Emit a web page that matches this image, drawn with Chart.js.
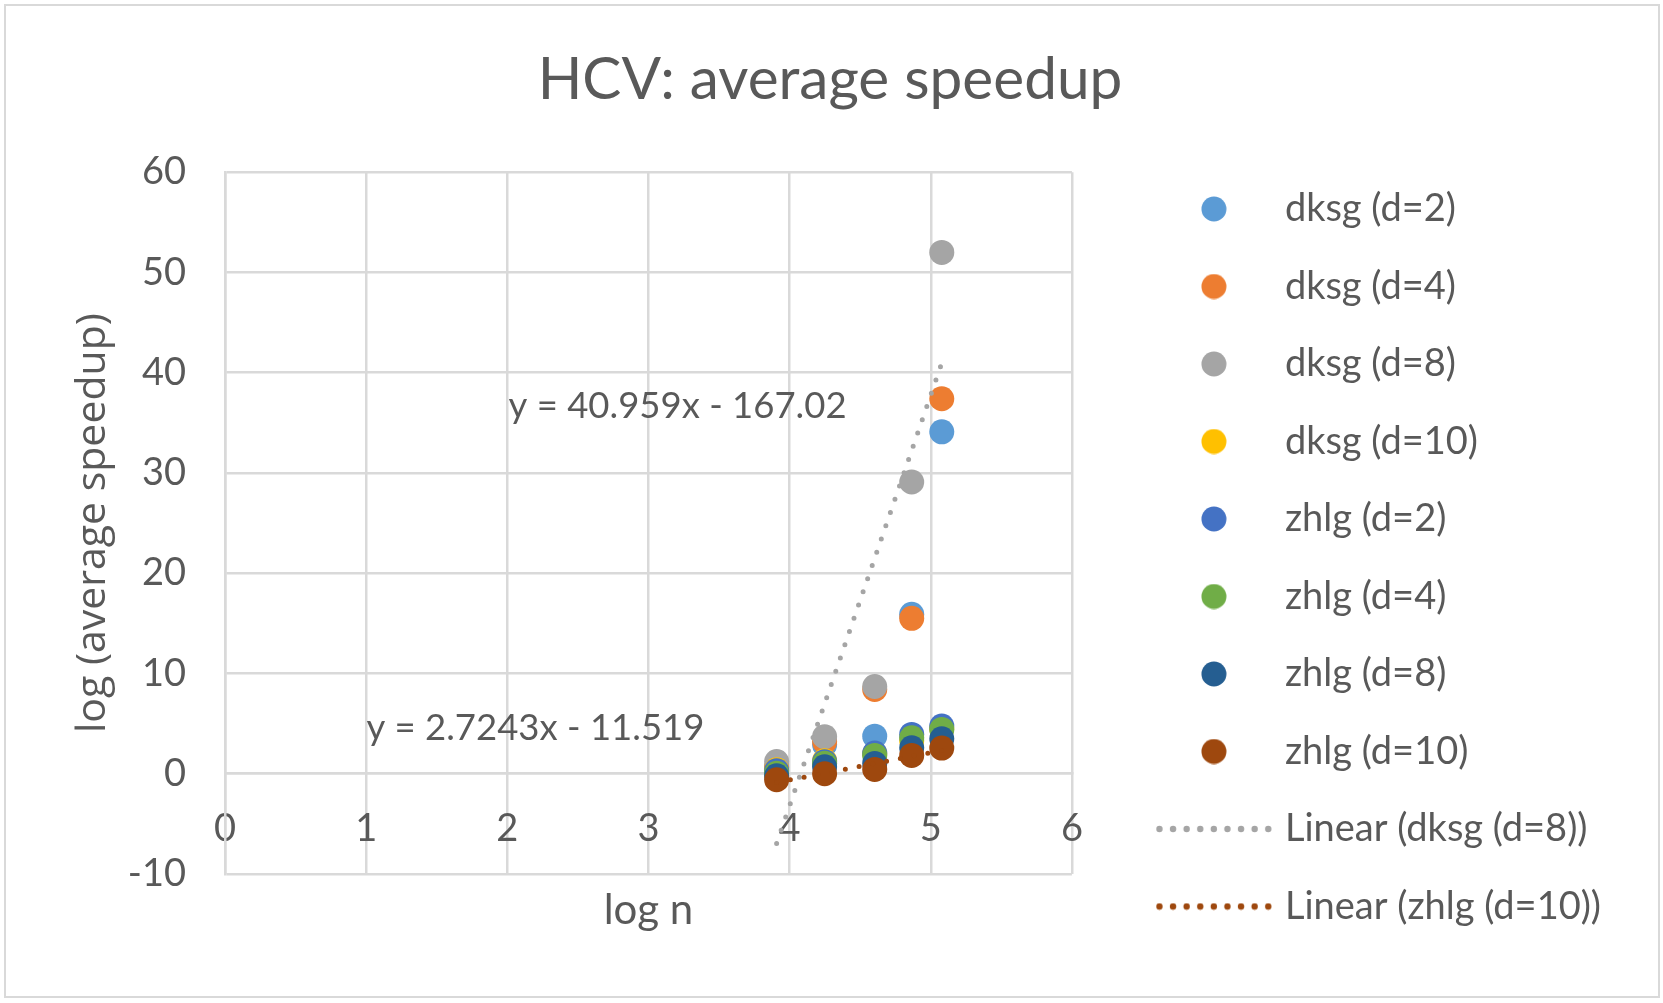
<!DOCTYPE html>
<html><head><meta charset="utf-8">
<script src="https://cdn.jsdelivr.net/npm/chart.js@4.4.1/dist/chart.umd.min.js"></script>
<style>
html,body{margin:0;padding:0;background:#fff;}
#wrap{position:relative;width:1663px;height:1003px;}
canvas{display:block;}
#frame{position:absolute;left:4px;top:4px;width:1656px;height:994px;box-sizing:border-box;border:2px solid #d9d9d9;pointer-events:none;}
</style></head><body>
<div id="wrap"><canvas id="c" width="1663" height="1003"></canvas><div id="frame"></div></div>
<script>
// ---- data ----
const logN = [3.908, 4.248, 4.603, 4.865, 5.078];
const dksgD2  = [0.6, 2.9, 3.75, 15.9, 34.1];
const dksgD4  = [0.7, 3.2, 8.4, 15.5, 37.4];
const dksgD8  = [1.22, 3.7, 8.7, 29.1, 52.0];
const dksgD10 = [0.4, 1.3, 2.0, 3.3, 4.5];
const zhlgD2  = [0.31, 1.2, 2.06, 3.92, 4.75];
const zhlgD4  = [0.05, 1.05, 1.83, 3.59, 4.42];
const zhlgD8  = [-0.2, 0.7, 1.03, 2.59, 3.49];
const zhlgD10 = [-0.6, 0.0, 0.43, 1.83, 2.56];
const seriesLabels = ['dksg (d=2)','dksg (d=4)','dksg (d=8)','dksg (d=10)','zhlg (d=2)','zhlg (d=4)','zhlg (d=8)','zhlg (d=10)'];
const seriesValues = [dksgD2, dksgD4, dksgD8, dksgD10, zhlgD2, zhlgD4, zhlgD8, zhlgD10];
const trendLabels = ['Linear (dksg (d=8))','Linear (zhlg (d=10))'];
const trendX = [3.908, 5.078];
const trendDksgD8 = [-6.95, 40.97];
const trendZhlgD10 = [-0.87, 2.32];
const equations = ['y = 40.959x - 167.02', 'y = 2.7243x - 11.519'];

// ---- styles ----
const seriesColors = ['#5B9BD5','#ED7D31','#A5A5A5','#FFC000','#4472C4','#70AD47','#255E91','#9E480E'];
const trendColors = ['#A5A5A5','#9E480E'];
const textColor = '#595959';
const gridColor = '#d9d9d9';

function circleIcon(color){
  const c = document.createElement('canvas'); c.width = 26; c.height = 26;
  const g = c.getContext('2d'); g.fillStyle = color; g.beginPath(); g.arc(13,13,12.5,0,Math.PI*2); g.fill();
  return c;
}
function dottedIcon(color){
  const c = document.createElement('canvas'); c.width = 116; c.height = 8;
  const g = c.getContext('2d'); g.fillStyle = color;
  for (let i = 0; i < 9; i++){ g.beginPath(); g.arc(3.5 + i*13.6, 4, 3.2, 0, Math.PI*2); g.fill(); }
  return c;
}
const icons = seriesColors.map(circleIcon).concat(trendColors.map(dottedIcon));

const datasets = seriesLabels.map((label, i) => ({
  label,
  data: logN.map((x, j) => ({x, y: seriesValues[i][j]})),
  backgroundColor: seriesColors[i],
  borderColor: seriesColors[i],
  pointRadius: 12.5,
  pointHoverRadius: 12.5,
  pointBorderWidth: 0,
  order: 10 - i
}));
[trendDksgD8, trendZhlgD10].forEach((vals, k) => {
  datasets.push({
    label: trendLabels[k],
    data: trendX.map((x, j) => ({x, y: vals[j]})),
    showLine: true,
    borderColor: trendColors[k],
    backgroundColor: trendColors[k],
    borderWidth: 5,
    borderDash: [0, 14],
    borderCapStyle: 'round',
    pointRadius: 0,
    pointHoverRadius: 0,
    order: 1 - k
  });
});

const eqPlugin = {
  id: 'eq',
  afterDatasetsDraw(chart){
    const {ctx, scales} = chart;
    const anchors = [[3.206, 36.69], [2.199, 4.49]];
    ctx.save();
    ctx.font = '36.5px Lato';
    ctx.fillStyle = textColor;
    ctx.textAlign = 'center';
    ctx.textBaseline = 'middle';
    equations.forEach((t, i) => ctx.fillText(t, scales.x.getPixelForValue(anchors[i][0]), scales.y.getPixelForValue(anchors[i][1])));
    ctx.restore();
  }
};

const tickFont = {family: 'Lato', size: 38};
new Chart(document.getElementById('c'), {
  type: 'scatter',
  data: {datasets},
  plugins: [eqPlugin],
  options: {
    responsive: false,
    animation: false,
    layout: {padding: {left: 49, right: 52, top: 10, bottom: 10}},
    plugins: {
      tooltip: {enabled: false},
      title: {
        display: true, text: 'HCV: average speedup', color: textColor,
        font: {family: 'Lato', size: 58.5, weight: 'normal'},
        padding: {top: 35, bottom: 57}
      },
      legend: {
        position: 'right', align: 'start', maxWidth: 700,
        title: {display: true, text: ' ', font: {size: 10}, padding: {top: 128.5, bottom: 0}},
        labels: {
          usePointStyle: true, pointStyleWidth: 104, padding: 39.5,
          font: tickFont, color: textColor,
          generateLabels(chart){
            return chart.data.datasets.map((ds, i) => ({
              text: ds.label, pointStyle: icons[i], fillStyle: 'transparent',
              strokeStyle: 'transparent', lineWidth: 0, hidden: false,
              datasetIndex: i, fontColor: textColor
            }));
          }
        },
        onClick: null
      }
    },
    scales: {
      x: {
        type: 'linear', position: {y: 0}, min: 0, max: 6,
        ticks: {stepSize: 1, font: tickFont, color: textColor, padding: 32},
        grid: {color: gridColor, lineWidth: 2.5, drawTicks: false},
        border: {color: gridColor, width: 2.5}
      },
      y: {
        type: 'linear', position: 'left', min: -10, max: 60,
        ticks: {stepSize: 10, font: tickFont, color: textColor, padding: 39},
        grid: {color: gridColor, lineWidth: 2.5, drawTicks: false},
        border: {color: gridColor, width: 2.5},
        title: {display: true, text: 'log (average speedup)', color: textColor,
                font: {family: 'Open Sans', size: 41}, padding: {top: 20, bottom: 0}},
        afterFit(s){ s.width = 176; }
      },
      xb: {
        type: 'linear', position: 'bottom',
        grid: {display: false}, border: {display: false}, ticks: {display: false},
        title: {display: true, text: 'log n', color: textColor,
                font: {family: 'Lato', size: 42}, padding: {top: 0, bottom: 57}},
        afterFit(s){ s.height = 119; }
      },
      yR: {
        type: 'linear', position: 'right',
        grid: {display: false}, border: {display: false}, ticks: {display: false},
        afterFit(s){ s.width = 50.5; }
      }
    }
  }
});
</script>
</body></html>
